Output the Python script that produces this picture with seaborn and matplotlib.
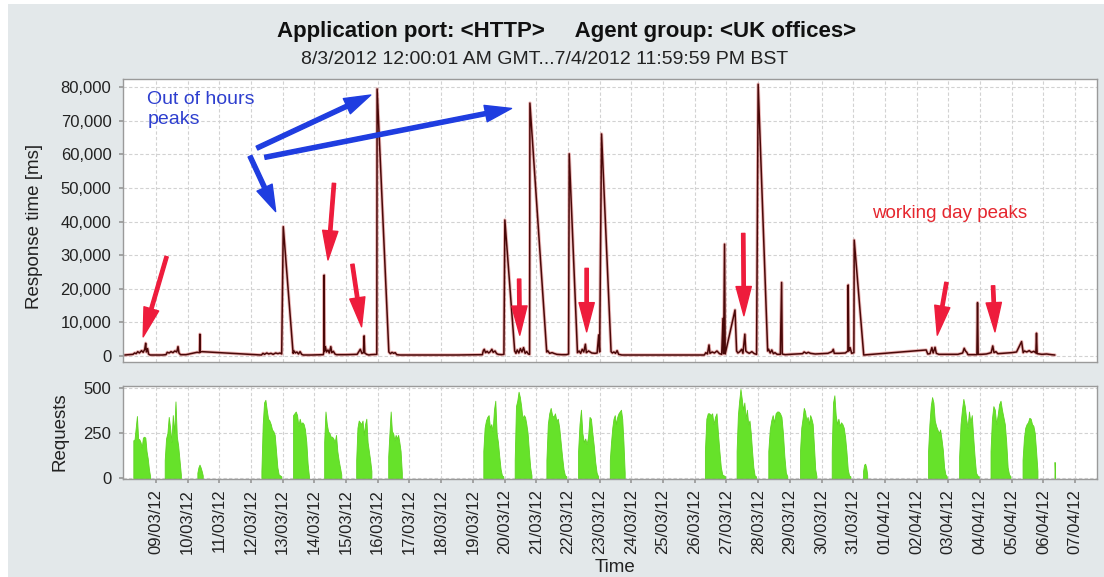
import matplotlib
matplotlib.use("Agg")
import matplotlib.pyplot as plt
from matplotlib.patches import Rectangle
from matplotlib.ticker import FuncFormatter
import matplotlib.dates as mdates
import seaborn as sns
import pandas as pd
import numpy as np

START = pd.Timestamp("2012-03-08")

# Response time samples: days since 08/03 00:00 and the value in ms
resp_day = [0.02, 0.15, 0.28, 0.33, 0.38, 0.43, 0.48, 0.55, 0.60, 0.65, 0.68, 0.70, 0.74, 0.77, 0.82,
            1.00, 1.20, 1.32, 1.36, 1.42, 1.48, 1.54, 1.60, 1.66, 1.70, 1.73, 1.78, 1.95, 2.10, 2.30, 2.38, 2.39, 2.40, 2.45,
            4.33, 4.38, 4.43, 4.50, 4.56, 4.63, 4.70, 4.78, 4.85, 4.92, 4.97, 5.02, 5.33, 5.36, 5.40, 5.45, 5.50, 5.55, 5.60, 5.65, 5.90,
            6.28, 6.30, 6.31, 6.32, 6.35, 6.38, 6.43, 6.47, 6.52, 6.55, 6.60, 6.65, 6.70, 7.00,
            7.35, 7.45, 7.50, 7.55, 7.57, 7.59, 7.65, 7.72, 7.78, 7.97, 7.98, 8.35, 8.40, 8.45, 8.50, 8.55, 8.60, 8.70,
            9.50, 10.50, 11.30, 11.33, 11.36, 11.40, 11.45, 11.50, 11.55, 11.60, 11.64, 11.70, 11.75, 11.80, 11.90, 11.98, 12.01,
            12.32, 12.36, 12.40, 12.45, 12.50, 12.55, 12.60, 12.65, 12.70, 12.75, 12.79, 12.80,
            13.33, 13.37, 13.42, 13.50, 13.58, 13.65, 13.80, 13.95, 14.02, 14.04,
            14.30, 14.35, 14.40, 14.45, 14.50, 14.55, 14.58, 14.65, 14.75, 14.85, 14.92, 14.97, 15.00, 15.06,
            15.36, 15.40, 15.45, 15.50, 15.55, 15.60, 15.70, 16.50, 17.50,
            18.30, 18.35, 18.40, 18.45, 18.48, 18.55, 18.62, 18.70, 18.78, 18.85, 18.89, 18.91, 18.94, 18.96, 19.27,
            19.32, 19.36, 19.42, 19.48, 19.52, 19.58, 19.61, 19.66, 19.72, 19.80, 19.88, 19.95, 20.00,
            20.30, 20.33, 20.38, 20.43, 20.48, 20.53, 20.60, 20.70, 20.74, 20.76, 20.85, 21.00, 21.20,
            21.40, 21.45, 21.52, 21.58, 21.65, 21.80, 22.00, 22.20, 22.33, 22.37, 22.40, 22.55, 22.75,
            22.83, 22.84, 22.86, 22.90, 22.95, 23.02, 23.03, 23.33,
            25.30, 25.35, 25.42, 25.48, 25.52, 25.58, 25.62, 25.70, 26.00, 26.30, 26.45, 26.50, 26.54, 26.58, 26.62,
            26.90, 26.92, 26.94, 27.05, 27.20, 27.35, 27.40, 27.44, 27.50, 27.56, 27.70, 27.85, 28.00, 28.15,
            28.31, 28.36, 28.40, 28.47, 28.55, 28.62, 28.70, 28.76, 28.78, 28.80, 28.95, 29.10, 29.25, 29.36]
resp_ms = [300, 400, 500, 900, 700, 1300, 900, 1600, 1100, 2000, 3800, 1200, 2200, 600, 300,
           300, 300, 400, 1100, 900, 1300, 1000, 1500, 1200, 2800, 900, 400, 400, 700, 1100, 1000, 6500, 1200, 1300,
           300, 800, 500, 900, 600, 800, 500, 900, 700, 900, 600, 38500, 800, 1500, 900, 1200, 600, 1300, 500, 300, 300,
           400, 1200, 24100, 1500, 2800, 1200, 1800, 900, 2800, 1000, 1400, 600, 400, 400,
           500, 2000, 800, 1000, 6000, 900, 500, 300, 400, 500, 79500, 1200, 700, 1100, 800, 1000, 400, 300,
           300, 300, 400, 1600, 2000, 1000, 1400, 900, 1300, 2000, 1100, 1500, 700, 500, 400, 500, 40500,
           1500, 800, 1800, 900, 2200, 1200, 2500, 800, 1300, 600, 500, 75300,
           1200, 1500, 800, 1000, 700, 500, 400, 400, 600, 60200,
           1000, 1500, 800, 2000, 1200, 3500, 1000, 1500, 900, 800, 900, 6300, 1200, 66100,
           1300, 900, 1200, 800, 1600, 500, 300, 300, 300,
           300, 1000, 600, 3300, 800, 1200, 900, 1500, 700, 500, 11200, 700, 33300, 600, 13700,
           1500, 900, 1300, 2000, 800, 6500, 1500, 1100, 800, 1300, 700, 500, 80900,
           1500, 2000, 900, 1800, 700, 1000, 500, 500, 21900, 600, 400, 500, 600,
           700, 1200, 800, 1100, 800, 600, 700, 800, 1300, 2000, 800, 800, 900,
           1500, 21150, 1500, 2500, 800, 1000, 34500, 300,
           1800, 600, 700, 2500, 900, 2600, 800, 500, 500, 500, 900, 2300, 1500, 1100, 400,
           400, 15900, 500, 500, 600, 1000, 3000, 1000, 1300, 700, 800, 900, 1000, 1200,
           4300, 1000, 1500, 1200, 1600, 1100, 1400, 900, 6800, 700, 500, 600, 400, 300]

# Requests: one burst per working day (first and last sample in days since 08/03)
req_first = [0.29, 1.28, 2.31, 4.33, 5.33, 6.31, 7.32, 8.33, 11.33, 12.32, 13.32, 14.32,
             15.32, 18.32, 19.32, 20.32, 21.32, 22.32, 23.31, 25.36, 26.34, 27.33, 28.34, 29.35]
req_last = [0.82, 1.79, 2.48, 4.96, 5.83, 6.85, 7.80, 8.76, 11.96, 12.85, 13.95, 14.95,
            15.79, 18.96, 19.93, 20.92, 21.84, 22.91, 23.44, 25.95, 26.96, 27.96, 28.81, 29.37]
req_counts = [
    [210, 215, 280, 345, 220, 215, 200, 170, 225, 230, 225, 150, 110, 50, 10],
    [100, 220, 250, 340, 280, 200, 350, 250, 426, 230, 180, 100, 20],
    [30, 60, 75, 60, 40, 15],
    [40, 300, 420, 435, 380, 330, 320, 300, 270, 260, 240, 150, 60, 20, 15, 10],
    [350, 360, 370, 350, 290, 330, 300, 310, 300, 270, 200, 80, 10],
    [200, 370, 300, 260, 250, 230, 230, 220, 200, 240, 150, 100, 60, 20],
    [100, 280, 320, 310, 300, 320, 240, 300, 330, 200, 150, 100, 40],
    [120, 250, 370, 260, 250, 210, 240, 220, 240, 200, 150, 30],
    [150, 280, 320, 340, 350, 280, 300, 260, 380, 430, 250, 200, 120, 50, 15, 10],
    [100, 400, 430, 480, 450, 400, 330, 350, 340, 300, 250, 150, 60, 15],
    [100, 300, 360, 390, 350, 340, 360, 320, 330, 280, 200, 120, 50, 15, 10],
    [150, 300, 380, 250, 200, 220, 190, 230, 340, 330, 250, 180, 90, 30, 10],
    [100, 200, 280, 330, 350, 300, 340, 360, 370, 380, 330, 200, 30],
    [150, 330, 360, 360, 350, 360, 300, 340, 360, 250, 150, 60, 20, 15, 10],
    [150, 350, 430, 495, 440, 380, 420, 330, 380, 300, 320, 250, 150, 60, 15, 10],
    [150, 270, 320, 350, 310, 360, 370, 370, 360, 340, 250, 120, 30, 10],
    [150, 280, 330, 390, 370, 320, 340, 300, 350, 330, 300, 180, 50, 10],
    [150, 420, 460, 350, 300, 330, 290, 310, 300, 280, 230, 150, 50, 15, 10],
    [40, 75, 80, 60, 20],
    [150, 300, 400, 450, 420, 320, 290, 270, 250, 270, 220, 160, 60, 20, 10],
    [120, 300, 380, 440, 400, 330, 280, 370, 310, 350, 230, 120, 30, 15, 10],
    [150, 330, 400, 380, 300, 350, 410, 430, 380, 340, 300, 200, 60, 20, 10],
    [100, 220, 280, 300, 310, 335, 330, 300, 290, 250, 150, 40],
    [90],
]

tick_dates = pd.date_range("2012-03-09", "2012-04-07", freq="D")

# Annotation arrows: (tail day, tail ms, tip day, tip ms)
blue_arrows = [(4.19, 61900, 7.78, 77700), (4.44, 59150, 12.22, 73700), (3.97, 59500, 4.78, 43000)]
red_arrows = [(1.34, 29600, 0.60, 5700), (6.62, 51400, 6.43, 28600), (7.20, 27300, 7.49, 8700),
              (12.46, 22900, 12.48, 6200), (14.59, 26100, 14.59, 7200), (19.53, 36500, 19.55, 12000),
              (25.94, 21900, 25.65, 6200), (27.41, 20900, 27.47, 7200)]


def day(d):
    return START + pd.to_timedelta(d, unit="D")


sns.set_theme(style="white")
plt.rcParams["font.family"] = ["Liberation Sans", "DejaVu Sans"]

BG = "#e3e8ea"
GRID = "#d2d2d2"
SPINE = "#9a9a9a"

fig = plt.figure(figsize=(11.04, 5.77), dpi=100)
fig.patch.set_facecolor("white")
fig.patches.append(Rectangle((8 / 1104, 0), 1, 573 / 577, transform=fig.transFigure,
                             facecolor=BG, edgecolor="none", zorder=-10))

ax1 = fig.add_axes([0.111, 0.3731, 0.8827, 0.490])
ax2 = fig.add_axes([0.111, 0.1698, 0.8827, 0.1607], sharex=ax1)

df = pd.DataFrame({"time": day(np.array(resp_day)), "ms": resp_ms})
sns.lineplot(data=df, x="time", y="ms", ax=ax1, color="#e08888", linewidth=2.4, alpha=0.6)
sns.lineplot(data=df, x="time", y="ms", ax=ax1, color="#4a0808", linewidth=1.1)

for a, b, vals in zip(req_first, req_last, req_counts):
    if len(vals) == 1:
        t = day(np.array([a - 0.004, a, b]))
        v = [0, vals[0], 0]
    else:
        t = day(np.linspace(a, b, len(vals)))
        v = vals
    ax2.fill_between(t, v, 0, color="#66e22a", linewidth=0.6, edgecolor="#5ed422")

xmin, xmax = day(-0.05), day(30.69)
for ax in (ax1, ax2):
    ax.set_facecolor("white")
    ax.set_xlim(xmin, xmax)
    ax.set_xticks(tick_dates)
    ax.grid(True, color=GRID, linestyle=(0, (3, 2)), linewidth=0.8)
    for s in ax.spines.values():
        s.set_color(SPINE)
        s.set_linewidth(1.0)
    ax.tick_params(axis="y", which="both", left=True, length=3, color=SPINE,
                   labelsize=12, labelcolor="#222222", pad=5)
    ax.set_xlabel("")
    ax.set_ylabel("")

ax1.set_ylim(-1700, 82470)
ax1.set_yticks(np.arange(0, 80001, 10000))
ax1.yaxis.set_major_formatter(FuncFormatter(lambda v, p: f"{int(v):,}"))
ax1.tick_params(axis="x", labelbottom=False, bottom=False)

ax2.set_ylim(-5, 510)
ax2.set_yticks([0, 250, 500])
ax2.xaxis.set_major_formatter(mdates.DateFormatter("%d/%m/%y"))
ax2.tick_params(axis="x", bottom=True, length=3, color=SPINE, labelsize=12,
                labelcolor="#222222", rotation=90, pad=4)

ax1.set_ylabel("Response time [ms]", fontsize=13.5, color="#222222")
ax1.yaxis.set_label_coords(-0.0816, 0.48)
ax2.set_ylabel("Requests", fontsize=13.5, color="#222222")
ax2.yaxis.set_label_coords(-0.0559, 0.507)
fig.text(615 / 1104, 1 - 567 / 577, "Time", ha="center", va="center", fontsize=13.5, color="#222222")

fig.text(567 / 1104, 1 - 31 / 577, "Application port: <HTTP>     Agent group: <UK offices>",
         ha="center", va="center", fontsize=16, fontweight="bold", color="#111111")
fig.text(545 / 1104, 1 - 59 / 577, "8/3/2012 12:00:01 AM GMT...7/4/2012 11:59:59 PM BST",
         ha="center", va="center", fontsize=14, color="#222222")

ax1.text(day(0.73), 78900, "Out of hours\npeaks", color="#2e3fcf", fontsize=14,
         ha="left", va="top", linespacing=1.25)
ax1.text(day(23.58), 42300, "working day peaks", color="#e5262e", fontsize=13.5,
         ha="left", va="center")

for t0, v0, t1, v1 in blue_arrows:
    ax1.annotate("", xy=(day(t1), v1), xytext=(day(t0), v0),
                 arrowprops=dict(arrowstyle="simple,head_length=19,head_width=12,tail_width=3",
                                 mutation_scale=1, color="#1f3de0", shrinkA=0, shrinkB=0))
for t0, v0, t1, v1 in red_arrows:
    ax1.annotate("", xy=(day(t1), v1), xytext=(day(t0), v0),
                 arrowprops=dict(arrowstyle="simple,head_length=21,head_width=11,tail_width=2.4",
                                 mutation_scale=1, color="#ee1c3c", shrinkA=0, shrinkB=0))

fig.savefig("out.png", dpi=100, facecolor=fig.get_facecolor())
